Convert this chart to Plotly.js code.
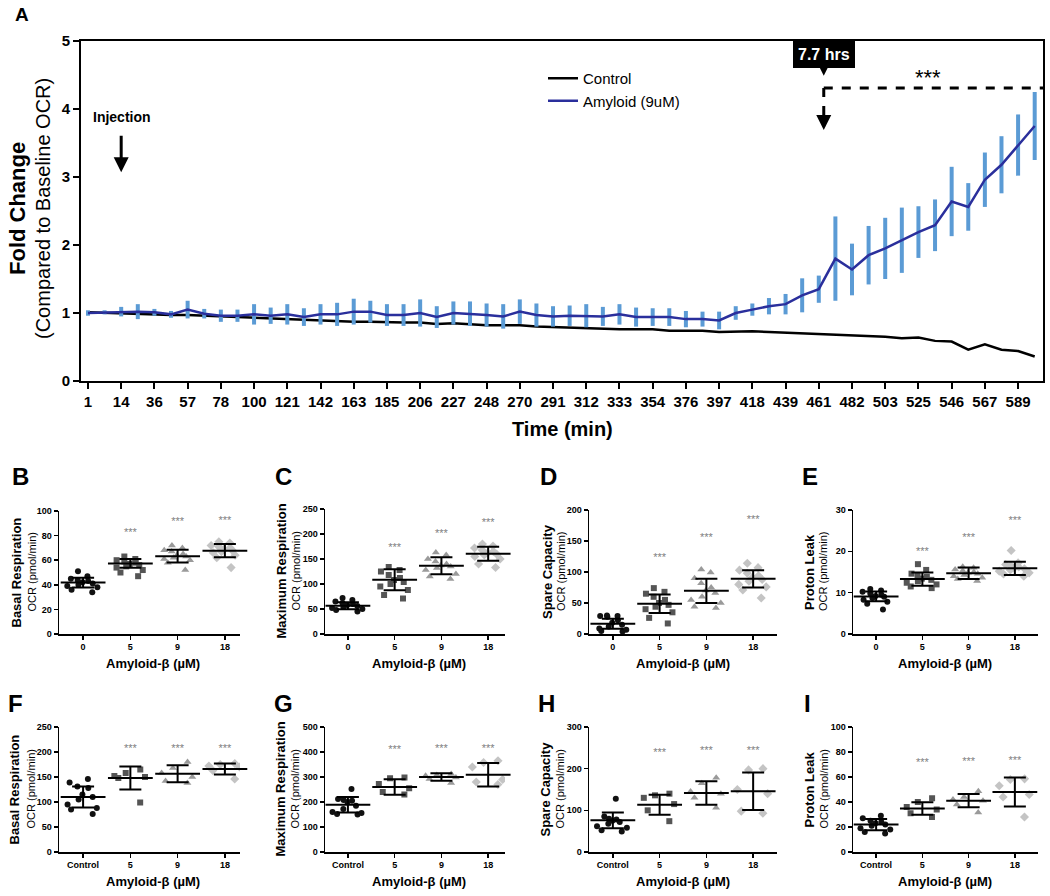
<!DOCTYPE html>
<html>
<head>
<meta charset="utf-8">
<script src="https://cdn.plot.ly/plotly-3.0.1.min.js"></script>
<style>
  html, body { margin: 0; padding: 0; background: #fff; }
  #chart { width: 1050px; height: 896px; }
</style>
</head>
<body>
<div id="chart"></div>
<script>
/* ---- Panel A: time course (fold change vs baseline OCR) ---- */
const times = [1, 7, 14, 25, 36, 46, 57, 67, 78, 89, 100, 110, 121, 131, 142, 152, 163, 174, 185, 195,
  206, 216, 227, 237, 248, 259, 270, 280, 291, 301, 312, 322, 333, 343, 354, 365, 376, 386, 397, 407,
  418, 428, 439, 450, 461, 471, 482, 492, 503, 514, 525, 535, 546, 556, 567, 578, 589, 599];
const timeTicks = [1, 14, 36, 57, 78, 100, 121, 142, 163, 185, 206, 227, 248, 270, 291, 312, 333, 354,
  376, 397, 418, 439, 461, 482, 503, 525, 546, 567, 589];
const controlFold = [1.01, 1.0, 0.99, 0.99, 0.98, 0.97, 0.97, 0.96, 0.94, 0.94, 0.93, 0.92, 0.91, 0.89,
  0.88, 0.87, 0.87, 0.87, 0.86, 0.86, 0.86, 0.84, 0.85, 0.83, 0.82, 0.82, 0.82, 0.80, 0.79, 0.79, 0.78,
  0.77, 0.76, 0.76, 0.76, 0.74, 0.74, 0.74, 0.72, 0.73, 0.73, 0.72, 0.71, 0.70, 0.69, 0.68, 0.67, 0.67,
  0.65, 0.63, 0.64, 0.59, 0.58, 0.46, 0.54, 0.46, 0.44, 0.36];
const amyloidFold = [1.0, 1.01, 1.02, 1.02, 1.01, 0.98, 1.05, 0.99, 0.96, 0.96, 0.98, 0.96, 0.98, 0.94,
  0.98, 0.98, 1.02, 1.02, 0.97, 0.97, 1.0, 0.94, 1.0, 0.99, 0.97, 0.95, 1.02, 0.97, 0.95, 0.96, 0.96,
  0.95, 0.98, 0.94, 0.94, 0.94, 0.91, 0.91, 0.89, 1.0, 1.05, 1.1, 1.13, 1.26, 1.35, 1.8, 1.64, 1.85,
  1.95, 2.07, 2.19, 2.29, 2.64, 2.56, 2.96, 3.18, 3.47, 3.75];
const amyloidSem = [0.04, 0.03, 0.07, 0.11, 0.05, 0.05, 0.13, 0.07, 0.09, 0.09, 0.15, 0.12, 0.15, 0.13,
  0.15, 0.17, 0.19, 0.16, 0.16, 0.16, 0.2, 0.16, 0.17, 0.18, 0.17, 0.18, 0.18, 0.17, 0.15, 0.15, 0.17,
  0.14, 0.15, 0.14, 0.13, 0.13, 0.12, 0.11, 0.13, 0.1, 0.09, 0.12, 0.15, 0.25, 0.2, 0.62, 0.38, 0.43,
  0.45, 0.48, 0.38, 0.38, 0.51, 0.35, 0.40, 0.42, 0.45, 0.50];

/* ---- Panels B-I: OCR per group ---- */
const doseCats = ['0', '5', '9', '18'];
const doseCatsCtrl = ['Control', '5', '9', '18'];

// B: basal respiration (dose series)
const basalPtsB = [[51, 47, 45, 44, 43, 42, 41, 40, 39, 38, 36, 34],
  [63, 61, 60, 59, 58, 57, 56, 55, 54, 52, 50, 47],
  [72, 70, 68, 67, 65, 64, 63, 62, 61, 60, 58, 52],
  [75, 74, 72, 71, 70, 69, 68, 67, 66, 64, 62, 54]];
const basalMeanB = [41.8, 57.4, 63.3, 67.7];
const basalSdB = [4, 3.6, 5.2, 5.4];
const basalStarsB = [82, 91, 92];

// C: maximum respiration
const maxPtsC = [[72, 68, 65, 62, 60, 58, 56, 54, 52, 50, 48, 45],
  [134, 128, 125, 118, 112, 108, 104, 100, 95, 88, 78, 71],
  [163, 158, 150, 145, 140, 137, 135, 132, 128, 120, 115, 110],
  [180, 176, 172, 168, 165, 162, 160, 158, 155, 150, 140, 133]];
const maxMeanC = [56.7, 108.7, 136.7, 160.7];
const maxSdC = [7, 21, 17, 14];
const maxStarsC = [172, 199, 222];

// D: spare capacity
const spPtsD = [[30, 29, 29, 28, 22, 18, 15, 12, 9, 7, 5, 4],
  [74, 68, 65, 60, 55, 50, 47, 44, 40, 35, 26, 17],
  [104, 99, 90, 82, 75, 70, 66, 60, 55, 50, 44, 42],
  [114, 107, 103, 98, 94, 91, 88, 85, 80, 76, 71, 58]];
const spMeanD = [16.6, 48.8, 69.7, 89];
const spSdD = [8, 15, 19.5, 14];
const spStarsD = [122, 154, 183];

// E: proton leak
const plPtsE = [[10.9, 10.5, 10.2, 9.8, 9.5, 9.2, 9.0, 8.7, 8.3, 7.8, 7.3, 5.9],
  [16.9, 15.5, 14.6, 14.1, 13.8, 13.4, 13.1, 12.8, 12.4, 12.0, 11.5, 11.1],
  [16.3, 16.0, 15.6, 15.3, 15.0, 14.8, 14.6, 14.3, 14.0, 13.6, 13.3, 12.8],
  [20.2, 17.2, 16.8, 16.5, 16.2, 16.0, 15.8, 15.5, 15.2, 14.8, 14.5, 14.0]];
const plMeanE = [9.1, 13.3, 14.7, 15.9];
const plSdE = [1.2, 1.6, 1.4, 1.6];
const plStarsE = [19.7, 23.2, 27.4];

// F: basal respiration (control series)
const basalPtsF = [[146, 139, 131, 128, 115, 110, 105, 95, 88, 85, 76],
  [165, 158, 152, 150, 148, 99],
  [180, 168, 158, 150, 142, 138],
  [177, 175, 172, 170, 163, 146]];
const basalMeanF = [110, 148, 156.7, 166];
const basalSdF = [21, 23, 17, 11];
const basalStarsF = [205, 206, 206];

// G: maximum respiration
const maxPtsG = [[252, 212, 208, 205, 200, 185, 172, 160, 156, 152, 150],
  [298, 295, 272, 255, 240, 230],
  [312, 308, 305, 298, 292, 276],
  [365, 358, 340, 290, 280, 270]];
const maxMeanG = [189, 260, 300, 309];
const maxSdG = [31, 31, 15, 47];
const maxStarsG = [409, 413, 413];

// H: spare capacity
const spPtsH = [[128, 85, 80, 78, 75, 72, 68, 62, 58, 52, 49],
  [140, 136, 130, 115, 100, 74],
  [178, 165, 145, 140, 130, 106],
  [200, 197, 150, 140, 98, 93]];
const spMeanH = [76, 113.6, 141.6, 145.6];
const spSdH = [19, 24, 28, 45];
const spStarsH = [238, 242, 242];

// I: proton leak
const plPtsI = [[29, 27, 25, 24, 23, 22, 21, 19, 18, 16, 14.7],
  [43, 40, 36, 34, 31, 28],
  [48.5, 44, 42, 41, 38, 31.5],
  [58.5, 58, 53, 46, 44, 28]];
const plMeanI = [21.9, 34.7, 41, 48];
const plSdI = [4.5, 5, 5.3, 11.6];
const plStarsI = [71, 72, 72.5];

/* ---- geometry helpers (page pixels -> paper fractions) ---- */
const W = 1050, H = 896;
const fx = px => px / W;
const fy = py => 1 - py / H;
const FONT = 'Arial, "Liberation Sans", sans-serif';

// paper-positioned, centred text
const label = (text, px, py, size, extra) => Object.assign({
  text, xref: 'paper', yref: 'paper', x: fx(px), y: fy(py),
  xanchor: 'center', yanchor: 'middle', showarrow: false,
  font: { size, family: FONT, color: '#000' }
}, extra || {});

const traces = [];
const annotations = [];
const shapes = [];
const layout = {
  width: W, height: H,
  margin: { l: 0, r: 0, t: 0, b: 0 },
  paper_bgcolor: '#fff', plot_bgcolor: 'rgba(0,0,0,0)',
  font: { family: FONT, color: '#000' },
  showlegend: true,
  legend: {
    x: fx(543), y: fy(62), xanchor: 'left', yanchor: 'top',
    font: { size: 15, family: FONT, color: '#000' },
    bgcolor: 'rgba(0,0,0,0)', itemwidth: 30, tracegroupgap: 0
  },
  boxmode: 'overlay'
};

/* ---- Panel A ---- */
const timeCats = times.map(String);
traces.push({
  x: timeCats, y: controlFold, type: 'scatter', mode: 'lines', name: 'Control',
  line: { color: '#000', width: 2.5 }, hoverinfo: 'x+y'
});
traces.push({
  x: timeCats, y: amyloidFold, type: 'scatter', mode: 'lines', name: 'Amyloid (9uM)',
  line: { color: '#2a2f9c', width: 2.5 },
  error_y: { type: 'data', array: amyloidSem, width: 0, thickness: 4, color: '#5b9bd5' }
});

layout.xaxis = {
  domain: [fx(81), fx(1043)], anchor: 'y', type: 'category',
  categoryorder: 'array', categoryarray: timeCats,
  range: [-0.42, 57.5], tickmode: 'array',
  tickvals: timeTicks.map(String), ticktext: timeTicks.map(String),
  ticks: 'outside', ticklen: 6, tickwidth: 2, tickcolor: '#000',
  tickfont: { size: 15, family: FONT, weight: 'bold', color: '#000' },
  showline: true, linewidth: 2, linecolor: '#000', mirror: true,
  showgrid: false, zeroline: false
};
layout.yaxis = {
  domain: [fy(381), fy(41)], anchor: 'x', range: [0, 5], dtick: 1,
  ticks: 'outside', ticklen: 6, tickwidth: 2, tickcolor: '#000',
  tickfont: { size: 15, family: FONT, weight: 'bold', color: '#000' },
  showline: true, linewidth: 2, linecolor: '#000', mirror: true,
  showgrid: false, zeroline: false
};

// vertical divider at 397 min
shapes.push({ type: 'line', xref: 'x', yref: 'y domain', x0: '397', x1: '397', y0: 0, y1: 1,
  line: { color: '#000', width: 1.5 } });
// dashed bracket from 7.7 hrs to the end
shapes.push({ type: 'line', xref: 'x', yref: 'y', x0: 44.3, x1: 57.5, y0: 4.31, y1: 4.31,
  line: { color: '#000', width: 3, dash: 'dash' } });
shapes.push({ type: 'line', xref: 'x', yref: 'y', x0: 44.3, x1: 44.3, y0: 4.31, y1: 3.86,
  line: { color: '#000', width: 3, dash: 'dash' } });

annotations.push(
  label('<b>A</b>', 22, 15, 19),
  label('<b>Fold Change</b>', 17, 209, 22, { textangle: -90 }),
  label('(Compared to Baseline OCR)', 43, 209, 20, { textangle: -90 }),
  label('<b>Time (min)</b>', 562, 429, 20),
  { text: '<b>Injection</b>', xref: 'x', yref: 'y', x: 2.05, y: (381 - 117) / 68, showarrow: false,
    xanchor: 'center', yanchor: 'middle', font: { size: 14, family: FONT } },
  { text: '', xref: 'x', yref: 'y', x: 2, y: 3.07, ax: 0, ay: -38, showarrow: true,
    arrowhead: 2, arrowsize: 1, arrowwidth: 3, arrowcolor: '#000' },
  { text: '<b>7.7 hrs</b>', xref: 'x', yref: 'y', x: 44.3, y: 4.49, ax: 0, ay: -21, showarrow: true,
    arrowhead: 2, arrowsize: 1.2, arrowwidth: 2.5, arrowcolor: '#000', standoff: 0,
    bgcolor: '#000', bordercolor: '#000', borderpad: 4,
    font: { size: 16, family: FONT, color: '#fff' } },
  { text: '', xref: 'x', yref: 'y', x: 44.3, y: 3.69, ax: 0, ay: -14, showarrow: true,
    arrowhead: 2, arrowsize: 1, arrowwidth: 3, arrowcolor: '#000' },
  { text: '***', xref: 'x', yref: 'y', x: 50.6, y: 4.47, showarrow: false,
    xanchor: 'center', yanchor: 'middle', font: { size: 22, family: FONT, color: '#000' } }
);

/* ---- Small panels ---- */
const groupStyle = [
  { symbol: 'circle', color: '#111', size: 6 },
  { symbol: 'square', color: '#555', size: 6 },
  { symbol: 'triangle-up', color: '#9a9a9a', size: 7 },
  { symbol: 'diamond', color: '#c4c4c4', size: 7 }
];

const panels = [
  { letter: 'B', lx: 20, x0: 59, x1: 240, top: 511, bot: 634, xr: [-0.51, 3.32], cats: doseCats,
    ymax: 100, dtick: 20, title: 'Basal Respiration', tx: [16, 31], xt: 153,
    pts: basalPtsB, mean: basalMeanB, sd: basalSdB, stars: basalStarsB },
  { letter: 'C', lx: 283, x0: 325, x1: 505, top: 509, bot: 634, xr: [-0.49, 3.36], cats: doseCats,
    ymax: 250, dtick: 50, title: 'Maximum Respiration', tx: [281, 295], xt: 419,
    pts: maxPtsC, mean: maxMeanC, sd: maxSdC, stars: maxStarsC },
  { letter: 'D', lx: 548, x0: 589, x1: 777, top: 510, bot: 634, xr: [-0.51, 3.51], cats: doseCats,
    ymax: 200, dtick: 50, title: 'Spare Capacity', tx: [547, 561], xt: 683,
    pts: spPtsD, mean: spMeanD, sd: spSdD, stars: spStarsD },
  { letter: 'E', lx: 810, x0: 853, x1: 1038, top: 510, bot: 634, xr: [-0.5, 3.5], cats: doseCats,
    ymax: 30, dtick: 10, title: 'Proton Leak', tx: [809, 823], xt: 945,
    pts: plPtsE, mean: plMeanE, sd: plSdE, stars: plStarsE },
  { letter: 'F', lx: 15, x0: 59, x1: 240, top: 727, bot: 852, xr: [-0.51, 3.32], cats: doseCatsCtrl,
    ymax: 250, dtick: 50, title: 'Basal Respiration', tx: [14, 30], xt: 153,
    pts: basalPtsF, mean: basalMeanF, sd: basalSdF, stars: basalStarsF },
  { letter: 'G', lx: 283, x0: 325, x1: 505, top: 727, bot: 852, xr: [-0.49, 3.36], cats: doseCatsCtrl,
    ymax: 500, dtick: 100, title: 'Maximum Respiration', tx: [280, 294], xt: 419,
    pts: maxPtsG, mean: maxMeanG, sd: maxSdG, stars: maxStarsG },
  { letter: 'H', lx: 546, x0: 589, x1: 777, top: 727, bot: 852, xr: [-0.51, 3.51], cats: doseCatsCtrl,
    ymax: 300, dtick: 100, title: 'Spare Capacity', tx: [545, 559], xt: 683,
    pts: spPtsH, mean: spMeanH, sd: spSdH, stars: spStarsH },
  { letter: 'I', lx: 807, x0: 853, x1: 1038, top: 727, bot: 852, xr: [-0.5, 3.5], cats: doseCatsCtrl,
    ymax: 100, dtick: 20, title: 'Proton Leak', tx: [809, 823], xt: 945,
    pts: plPtsI, mean: plMeanI, sd: plSdI, stars: plStarsI }
];

panels.forEach((p, i) => {
  const n = i + 2;
  const xa = 'x' + n, ya = 'y' + n;

  p.pts.forEach((vals, g) => {
    const st = groupStyle[g];
    traces.push({
      type: 'box', x: vals.map(() => p.cats[g]), y: vals, xaxis: xa, yaxis: ya,
      boxpoints: 'all', jitter: 1, pointpos: 0, width: 0.8,
      fillcolor: 'rgba(0,0,0,0)', line: { width: 0, color: 'rgba(0,0,0,0)' },
      marker: { symbol: st.symbol, color: st.color, size: st.size },
      showlegend: false, hoverinfo: 'y'
    });
  });

  // mean +/- SD
  traces.push({
    type: 'scatter', mode: 'markers', x: p.cats, y: p.mean, xaxis: xa, yaxis: ya,
    marker: { symbol: 'line-ew', size: 32, color: '#000', line: { width: 2, color: '#000' } },
    error_y: { type: 'data', array: p.sd, width: 11, thickness: 2, color: '#000' },
    showlegend: false, cliponaxis: false
  });

  // significance stars
  traces.push({
    type: 'scatter', mode: 'text', x: p.cats.slice(1), y: p.stars, xaxis: xa, yaxis: ya,
    text: p.stars.map(() => '***'), textfont: { size: 11, color: '#808080', family: FONT },
    showlegend: false, hoverinfo: 'skip', cliponaxis: false
  });

  layout['xaxis' + n] = {
    domain: [fx(p.x0), fx(p.x1)], anchor: ya, type: 'category',
    categoryorder: 'array', categoryarray: p.cats, range: p.xr,
    ticks: 'outside', ticklen: 4, tickwidth: 1.5, tickcolor: '#000',
    tickfont: { size: 9, family: FONT, weight: 'bold', color: '#000' },
    showline: true, linewidth: 1.5, linecolor: '#000', showgrid: false, zeroline: false
  };
  layout['yaxis' + n] = {
    domain: [fy(p.bot), fy(p.top)], anchor: xa, range: [0, p.ymax], dtick: p.dtick,
    ticks: 'outside', ticklen: 4, tickwidth: 1.5, tickcolor: '#000',
    tickfont: { size: 9, family: FONT, weight: 'bold', color: '#000' },
    showline: true, linewidth: 1.5, linecolor: '#000', showgrid: false, zeroline: false
  };

  const midY = (p.top + p.bot) / 2;
  annotations.push(
    label('<b>' + p.letter + '</b>', p.lx, p.top < 600 ? 476 : 703, 24),
    label('<b>' + p.title + '</b>', p.tx[0], midY, 13, { textangle: -90 }),
    label('OCR (pmol/min)', p.tx[1], midY, 11, { textangle: -90 }),
    label('<b>Amyloid-β (µM)</b>', p.xt, p.bot + 29, 13)
  );
});

layout.annotations = annotations;
layout.shapes = shapes;

Plotly.newPlot('chart', traces, layout, { displayModeBar: false, staticPlot: true });
</script>
</body>
</html>
